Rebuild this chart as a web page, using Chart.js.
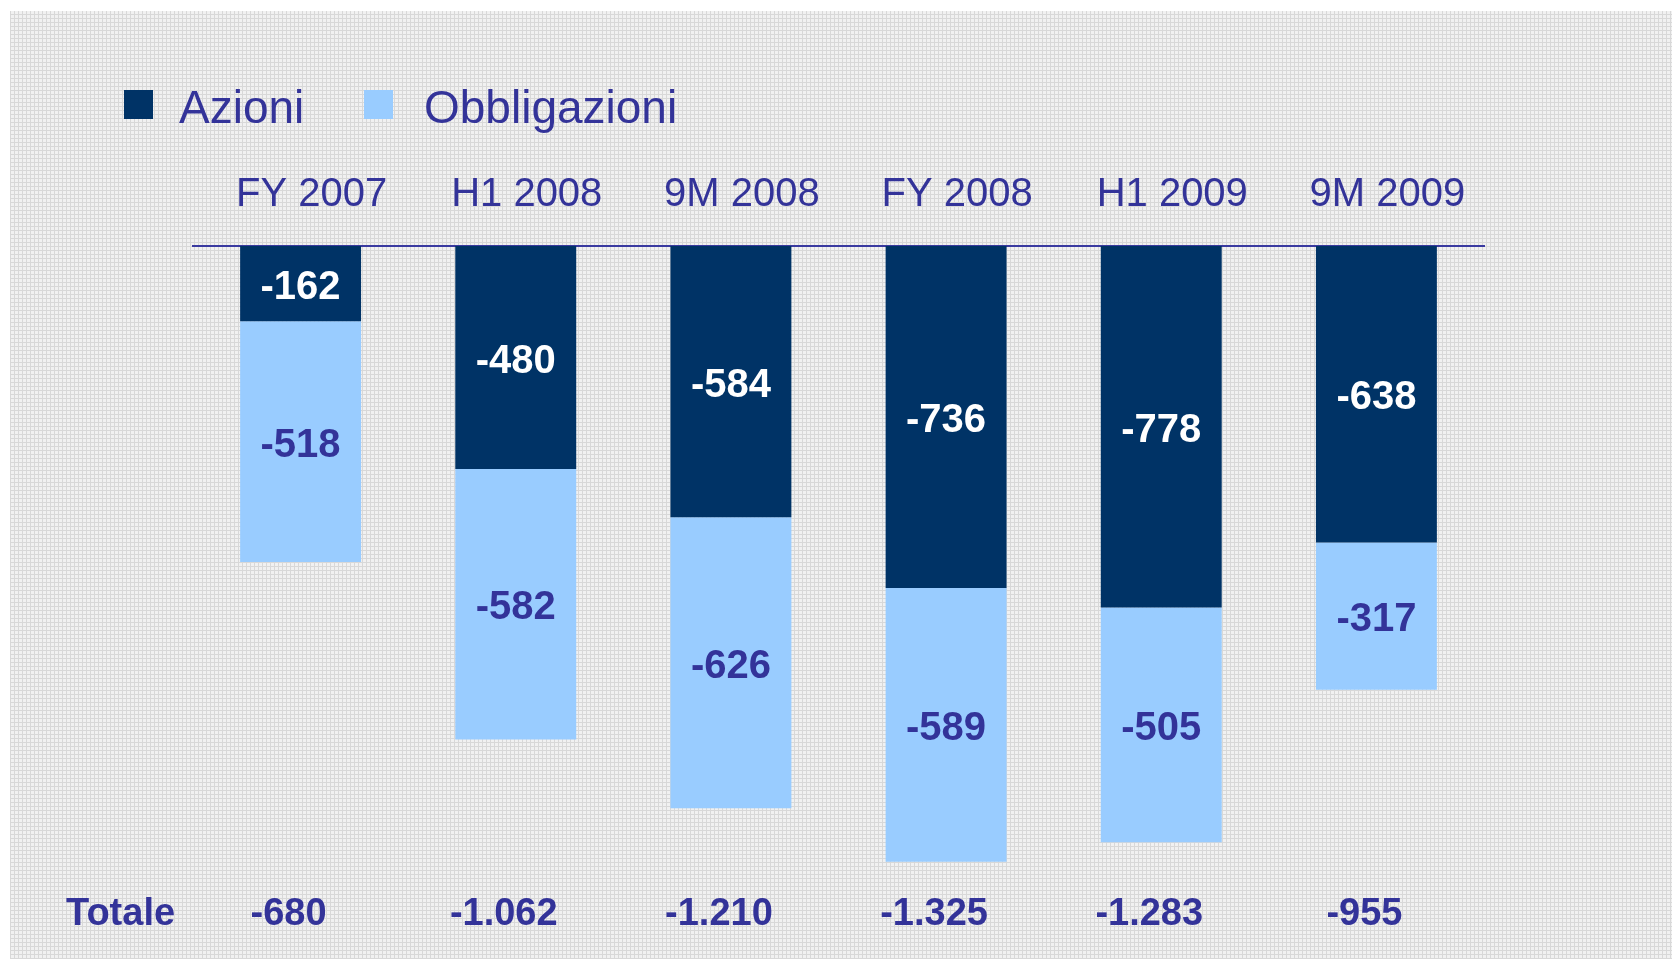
<!DOCTYPE html>
<html>
<head>
<meta charset="utf-8">
<script src="https://cdn.jsdelivr.net/npm/chart.js@4/dist/chart.umd.min.js"></script>
<style>
  html, body { margin: 0; padding: 0; background: #ffffff; }
  #wrap { position: relative; width: 1672px; height: 959px; overflow: hidden; }
  #texture {
    position: absolute; left: 10px; top: 11px; right: 0; bottom: 0;
    background-color: #f1f1f1;
    background-image:
      repeating-linear-gradient(90deg, #d8d8d8 0px, #d8d8d8 1px, transparent 1px, transparent 4px),
      repeating-linear-gradient(0deg, #d8d8d8 0px, #d8d8d8 1px, transparent 1px, transparent 4px);
  }
  #chart { position: absolute; left: 0; top: 0; }
</style>
</head>
<body>
<div id="wrap">
  <div id="texture"></div>
  <canvas id="chart" width="1672" height="959"></canvas>
</div>
<script>
// periods shown across the top
const periods = ['FY 2007', 'H1 2008', '9M 2008', 'FY 2008', 'H1 2009', '9M 2009'];
// stock (azioni) and bond (obbligazioni) outflows
const azioni = [-162, -480, -584, -736, -778, -638];
const obbligazioni = [-518, -582, -626, -589, -505, -317];
// totals row at the bottom
const totali = [-680, -1062, -1210, -1325, -1283, -955];

const textBlue = '#333399';
const font = 'Arial, "Liberation Sans", sans-serif';

function fmt(v) {
  // italian style thousands separator
  const s = String(Math.abs(v)).replace(/\B(?=(\d{3})+(?!\d))/g, '.');
  return (v < 0 ? '-' : '') + s;
}

const extras = {
  id: 'extras',
  afterDatasetsDraw(chart) {
    const ctx = chart.ctx;
    ctx.save();

    // values inside the bars
    ctx.font = 'bold 40px ' + font;
    ctx.textAlign = 'center';
    ctx.textBaseline = 'alphabetic';
    chart.data.datasets.forEach((ds, i) => {
      const meta = chart.getDatasetMeta(i);
      ctx.fillStyle = i === 0 ? '#ffffff' : textBlue;
      meta.data.forEach((bar, j) => {
        const cy = (bar.y + bar.base) / 2;
        ctx.fillText(fmt(ds.data[j]), bar.x, cy + 15);
      });
    });

    // legend
    ctx.font = '46px ' + font;
    ctx.textAlign = 'left';
    const boxX = [124, 364];
    const textX = [179, 424];
    chart.data.datasets.forEach((ds, i) => {
      ctx.fillStyle = ds.backgroundColor;
      ctx.fillRect(boxX[i], 90, 29, 29);
      ctx.fillStyle = textBlue;
      ctx.fillText(ds.label, textX[i], 123);
    });

    // totals row
    const x = chart.scales.x;
    ctx.font = 'bold 38px ' + font;
    ctx.fillStyle = textBlue;
    ctx.textAlign = 'left';
    ctx.fillText('Totale', 66, 925);
    ctx.textAlign = 'center';
    totali.forEach((t, j) => {
      ctx.fillText(fmt(t), x.getPixelForValue(j) - 12, 925);
    });

    ctx.restore();
  }
};

new Chart(document.getElementById('chart').getContext('2d'), {
  type: 'bar',
  data: {
    labels: periods,
    datasets: [
      { label: 'Azioni', data: azioni, backgroundColor: '#003366' },
      { label: 'Obbligazioni', data: obbligazioni, backgroundColor: '#99ccff' }
    ]
  },
  options: {
    responsive: false,
    animation: false,
    layout: { padding: { left: 193, right: 188, top: 0, bottom: 16 } },
    datasets: { bar: { barPercentage: 1, categoryPercentage: 0.562, borderWidth: 0 } },
    plugins: { legend: { display: false }, tooltip: { enabled: false } },
    scales: {
      x: {
        position: 'top',
        stacked: true,
        grid: { display: false, drawTicks: false },
        border: { display: true, color: '#3a3aa0', width: 2 },
        ticks: {
          color: textBlue,
          font: { family: font, size: 40 },
          padding: 27,
          labelOffset: 11,
          maxRotation: 0
        },
        afterFit(scale) { scale.height = 246; }
      },
      y: {
        display: false,
        stacked: true,
        min: -1500,
        max: 0
      }
    }
  },
  plugins: [extras]
});
</script>
</body>
</html>
